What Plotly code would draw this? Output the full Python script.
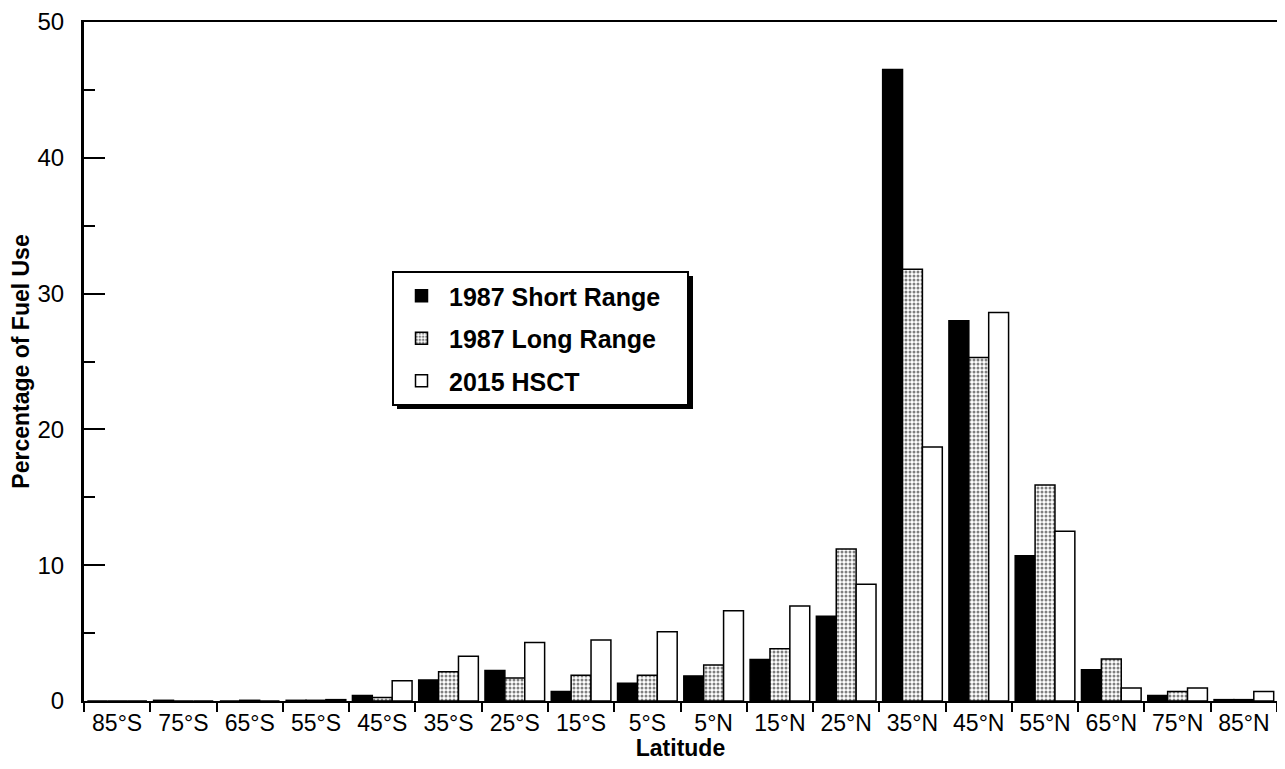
import plotly.graph_objects as go

categories = ["85°S", "75°S", "65°S", "55°S", "45°S", "35°S", "25°S", "15°S", "5°S",
              "5°N", "15°N", "25°N", "35°N", "45°N", "55°N", "65°N", "75°N", "85°N"]
short_1987 = [0, 0.05, 0, 0.05, 0.4, 1.55, 2.25, 0.7, 1.3, 1.85, 3.05, 6.25, 46.5, 28.0, 10.7, 2.3, 0.4, 0.1]
long_1987 = [0, 0, 0.05, 0.05, 0.25, 2.15, 1.7, 1.9, 1.9, 2.65, 3.85, 11.2, 31.8, 25.3, 15.9, 3.1, 0.7, 0.1]
hsct_2015 = [0, 0, 0, 0.1, 1.5, 3.3, 4.3, 4.5, 5.1, 6.65, 7.0, 8.6, 18.7, 28.6, 12.5, 0.95, 0.95, 0.7]
y_ticks = [0, 10, 20, 30, 40, 50]
series_names = ["1987 Short Range", "1987 Long Range", "2015 HSCT"]

FONT = "Liberation Sans"
# page body has an 8px margin; figure size chosen so page fits 1285x769
OFF = 8
W, H = 1285 - 2 * OFF, 769 - 2 * OFF
# target plot area in screen pixels
SX0, SX1, SY0, SY1 = 84, 1277, 22, 701
ML, MR = SX0 - OFF, (W + OFF) - SX1
MT, MB = SY0 - OFF, (H + OFF) - SY1
PW, PH = SX1 - SX0, SY1 - SY0

def px_x(p):
    return (p - SX0) / PW

def px_y(p):
    return (SY1 - p) / PH

NB = "\u00a0"
fig = go.Figure()
fig.add_trace(go.Bar(
    x=categories, y=short_1987, name=series_names[0] + NB * 3, legendgroup="a",
    marker=dict(color="black", line=dict(color="black", width=1.5)),
))
fig.add_trace(go.Bar(
    x=categories, y=long_1987, name=series_names[1], legendgroup="b",
    marker=dict(color="white", line=dict(color="black", width=1.5),
                pattern=dict(shape=".", fgcolor="black", bgcolor="white",
                             size=4, solidity=0.45, fillmode="overlay")),
))
fig.add_trace(go.Bar(
    x=categories, y=hsct_2015, name=series_names[2], legendgroup="c",
    marker=dict(color="white", line=dict(color="black", width=1.5)),
))

# legend drop shadow
LX0, LY0, LX1, LY1 = 392, 271, 688, 404
SH = 5
fig.add_shape(type="rect", xref="paper", yref="paper",
              x0=px_x(LX0 + SH), x1=px_x(LX1 + SH), y0=px_y(LY1 + SH), y1=px_y(LY0 + SH),
              fillcolor="black", line=dict(width=0), layer="above")

fig.update_layout(
    width=W, height=H,
    margin=dict(l=ML, r=MR, t=MT, b=MB),
    paper_bgcolor="white", plot_bgcolor="white",
    barmode="group", bargap=0.1, bargroupgap=0,
    font=dict(family=FONT, color="black"),
    showlegend=True,
    legend=dict(
        x=px_x(LX0), y=px_y(LY0), xanchor="left", yanchor="top",
        bgcolor="white", bordercolor="black", borderwidth=2,
        font=dict(family=FONT, size=25, color="black", weight="bold"),
        tracegroupgap=7, traceorder="grouped", itemwidth=45,
    ),
    xaxis=dict(
        type="category", tickson="boundaries", ticks="outside", ticklen=9,
        tickwidth=1.5, tickcolor="black", automargin=False,
        showline=True, linecolor="black", linewidth=2, mirror=True,
        showgrid=False, tickfont=dict(family=FONT, size=23),
        title=dict(text="Latitude", font=dict(family=FONT, size=23, weight="bold"), standoff=16),
    ),
    yaxis=dict(
        range=[0, 50], tickvals=y_ticks, ticks="inside", ticklen=21,
        tickwidth=1.5, tickcolor="black", automargin=False,
        minor=dict(dtick=5, ticks="inside", ticklen=11, tickwidth=1.5, tickcolor="black"),
        showline=True, linecolor="black", linewidth=3, mirror=True,
        showgrid=False, zeroline=False, ticklabelstandoff=12,
        ticklabeloverflow="allow",
        tickfont=dict(family=FONT, size=24),
        title=dict(text="Percentage of Fuel Use", font=dict(family=FONT, size=23, weight="bold"), standoff=4),
    ),
)

fig.write_html("out.html")
